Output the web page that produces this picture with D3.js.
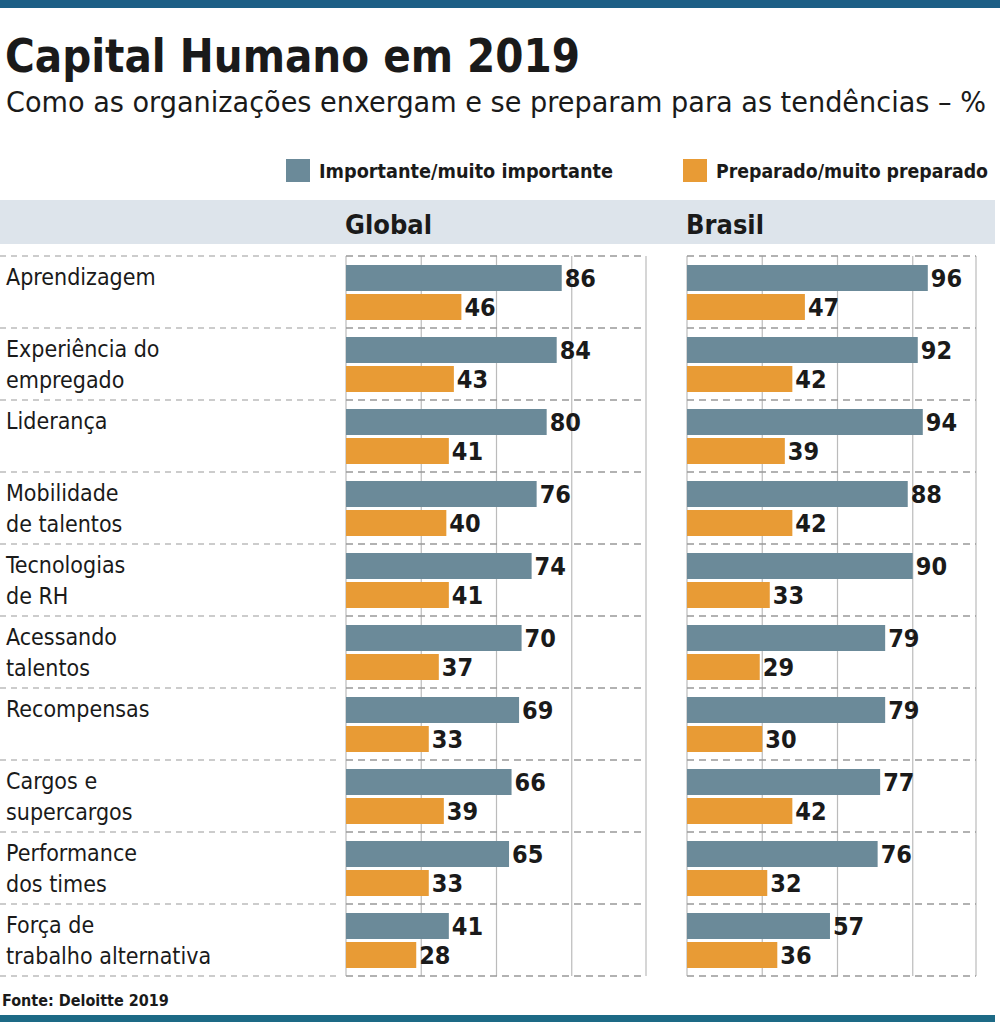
<!DOCTYPE html>
<meta charset="utf-8">
<html>
<head><title>Capital Humano em 2019</title>
<script src="https://d3js.org/d3.v7.min.js"></script>
<style>
  body { margin: 0; background: #fff; }
  text { font-family: "Liberation Sans Narrow", "DejaVu Sans Condensed", "Roboto", sans-serif; fill: #1a1a1a; }
</style>
</head>
<body>
<script>
var categories = [
  ["Aprendizagem"], ["Experiência do", "empregado"], ["Liderança"], ["Mobilidade", "de talentos"],
  ["Tecnologias", "de RH"], ["Acessando", "talentos"], ["Recompensas"], ["Cargos e", "supercargos"],
  ["Performance", "dos times"], ["Força de", "trabalho alternativa"]
];
var globalImportante = [86, 84, 80, 76, 74, 70, 69, 66, 65, 41];
var globalPreparado  = [46, 43, 41, 40, 41, 37, 33, 39, 33, 28];
var brasilImportante = [96, 92, 94, 88, 90, 79, 79, 77, 76, 57];
var brasilPreparado  = [47, 42, 39, 42, 33, 29, 30, 42, 32, 36];
var gridTicks = [30, 60, 90];

var W = 1000, H = 1022;
var blue = "#6b8a99", orange = "#e89b35";
var svg = d3.select("body").append("svg").attr("width", W).attr("height", H);

svg.append("rect").attr("x", 0).attr("y", 0).attr("width", W).attr("height", 8).attr("fill", "#1d5f86");
svg.append("rect").attr("x", 0).attr("y", 1015).attr("width", 995).attr("height", 7).attr("fill", "#1d6a86");

svg.append("text").attr("x", 5).attr("y", 72).attr("font-size", 46).attr("font-weight", "bold")
  .attr("textLength", 575).attr("lengthAdjust", "spacingAndGlyphs").text("Capital Humano em 2019");
svg.append("text").attr("x", 6).attr("y", 112).attr("font-size", 29)
  .attr("textLength", 980).attr("lengthAdjust", "spacingAndGlyphs")
  .text("Como as organizações enxergam e se preparam para as tendências – %");

// legend
var legend = [["Importante/muito importante", blue, 286, 294], ["Preparado/muito preparado", orange, 683, 272]];
legend.forEach(function(l) {
  svg.append("rect").attr("x", l[2]).attr("y", 159).attr("width", 24).attr("height", 23).attr("fill", l[1]);
  svg.append("text").attr("x", l[2] + 33).attr("y", 178).attr("font-size", 20).attr("font-weight", "bold")
    .attr("textLength", l[3]).attr("lengthAdjust", "spacingAndGlyphs").text(l[0]);
});

// header band
svg.append("rect").attr("x", 0).attr("y", 200).attr("width", 995).attr("height", 44).attr("fill", "#dde4eb");

var rowTop = 256, rowH = 72;
var y = d3.scaleBand().domain(d3.range(categories.length)).range([rowTop, rowTop + rowH * categories.length]);

var panels = [
  {name: "Global", x0: 346, right: 646, imp: globalImportante, prep: globalPreparado},
  {name: "Brasil", x0: 687, right: 976, imp: brasilImportante, prep: brasilPreparado}
];

// separators in label area
d3.range(categories.length + 1).forEach(function(i) {
  var yy = rowTop + i * rowH;
  svg.append("line").attr("x1", 0).attr("x2", 340).attr("y1", yy).attr("y2", yy)
    .attr("stroke", "#999").attr("stroke-dasharray", "6,5");
});

categories.forEach(function(lines, i) {
  var t = svg.append("text").attr("font-size", 23).attr("fill", "#222");
  lines.forEach(function(s, j) {
    t.append("tspan").attr("x", 6).attr("y", y(i) + 29 + j * 31).text(s);
  });
});

panels.forEach(function(p) {
  var x = d3.scaleLinear().domain([0, 120]).range([p.x0, p.x0 + 301]);
  var g = svg.append("g");
  svg.append("text").attr("x", p.x0 - 1).attr("y", 234).attr("font-size", 27).attr("font-weight", "bold").text(p.name);
  [0].concat(gridTicks).forEach(function(t) {
    g.append("line").attr("x1", x(t)).attr("x2", x(t)).attr("y1", rowTop).attr("y2", rowTop + rowH * 10)
      .attr("stroke", "#bbb").attr("stroke-width", 1.2);
  });
  g.append("line").attr("x1", p.right).attr("x2", p.right).attr("y1", rowTop).attr("y2", rowTop + rowH * 10)
    .attr("stroke", "#bbb").attr("stroke-width", 1.2);
  d3.range(11).forEach(function(i) {
    var yy = rowTop + i * rowH;
    g.append("line").attr("x1", p.x0).attr("x2", p.right).attr("y1", yy).attr("y2", yy)
      .attr("stroke", "#999").attr("stroke-width", 1.5).attr("stroke-dasharray", "7,5");
  });
  [[p.imp, blue, 9], [p.prep, orange, 38]].forEach(function(s) {
    g.selectAll(null).data(s[0]).enter().append("rect")
      .attr("x", x(0)).attr("y", function(d, i) { return y(i) + s[2]; })
      .attr("width", function(d) { return x(d) - x(0); }).attr("height", 26).attr("fill", s[1]);
    g.selectAll(null).data(s[0]).enter().append("text")
      .attr("x", function(d) { return x(d) + 3; }).attr("y", function(d, i) { return y(i) + s[2] + 22; })
      .attr("font-size", 25).attr("font-weight", "bold").text(function(d) { return d; });
  });
});

svg.append("text").attr("x", 2).attr("y", 1006).attr("font-size", 16).attr("font-weight", "bold").text("Fonte: Deloitte 2019");
</script>
</body>
</html>
